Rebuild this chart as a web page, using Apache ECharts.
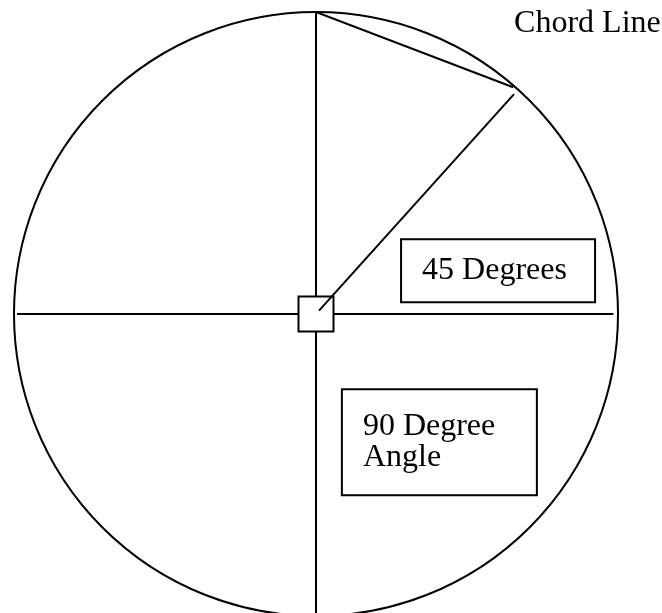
<!DOCTYPE html>
<html>
<head>
<meta charset="utf-8">
<script src="https://cdn.jsdelivr.net/npm/echarts@6/dist/echarts.min.js"></script>
<style>
  html, body { margin: 0; padding: 0; background: #ffffff; }
  #chart { width: 662px; height: 613px; }
</style>
</head>
<body>
<div id="chart"></div>
<script>
// polar points are [radius, angle in degrees], circle radius = 1
const verticalDiameter = [[1, 90], [0, 0], [1, 270]];
const horizontalDiameter = [[0.99, 180], [0, 0], [0.985, 0]];
const chordLine = [[1, 90], [0.995, 49]];
const radialLine = [[0.015, 48], [0.98, 48]];
const centerMark = [[0, 0]];

// text labels: x = left edge, y = middle, in unit x/y around the circle centre
const labelTexts = ['Chord Line', '45 Degrees', '90 Degree\nAngle'];
const labelX = [0.656, 0.285, 0.089];
const labelY = [0.96, 0.139, -0.432];
const labelBoxed = [false, true, true];

var chart = echarts.init(document.getElementById('chart'), null, { renderer: 'canvas' });

const lineStyle = { color: '#000', width: 2 };
const font = 'Liberation Serif';

function lineSeries(data, z) {
  return {
    type: 'line',
    coordinateSystem: 'polar',
    data: data,
    showSymbol: false,
    clip: false,
    lineStyle: lineStyle,
    z: z,
    silent: true
  };
}

const labelData = labelTexts.map(function (t, i) {
  var label = {
    show: true,
    position: 'inside',
    formatter: t,
    color: '#000',
    opacity: 1,
    fontFamily: font,
    fontSize: 32,
    lineHeight: 31,
    align: 'left',
    verticalAlign: 'middle'
  };
  if (labelBoxed[i]) {
    var lines = t.split('\n').length;
    var pad = lines > 1 ? 21 : 15;
    label.width = lines > 1 ? 173 : 172;
    label.padding = [pad, 0, pad, 20];
    label.borderColor = '#000';
    label.borderWidth = 2;
    label.backgroundColor = '#fff';
  }
  return { value: [labelX[i], labelY[i]], label: label };
});

const option = {
  animation: false,
  backgroundColor: '#ffffff',
  polar: {
    center: [316, 314],
    radius: 302
  },
  angleAxis: {
    type: 'value',
    min: 0,
    max: 360,
    startAngle: 0,
    clockwise: false,
    axisLine: { show: true, lineStyle: lineStyle },
    axisTick: { show: false },
    axisLabel: { show: false },
    splitLine: { show: false }
  },
  radiusAxis: {
    type: 'value',
    min: 0,
    max: 1,
    show: false
  },
  grid: {
    left: 14,
    top: 12,
    width: 604,
    height: 604,
    show: false
  },
  xAxis: { type: 'value', min: -1, max: 1, show: false },
  yAxis: { type: 'value', min: -1, max: 1, show: false },
  series: [
    lineSeries(verticalDiameter, 2),
    lineSeries(horizontalDiameter, 2),
    lineSeries(chordLine, 2),
    {
      type: 'scatter',
      coordinateSystem: 'polar',
      data: centerMark,
      symbol: 'rect',
      symbolSize: 35,
      itemStyle: { color: '#fff', borderColor: '#000', borderWidth: 2, opacity: 1 },
      z: 3,
      silent: true
    },
    lineSeries(radialLine, 4),
    {
      type: 'scatter',
      xAxisIndex: 0,
      yAxisIndex: 0,
      data: labelData,
      symbolSize: 0,
      itemStyle: { opacity: 1 },
      z: 5,
      silent: true
    }
  ]
};

chart.setOption(option);
window.addEventListener('resize', function () { chart.resize(); });
</script>
</body>
</html>
